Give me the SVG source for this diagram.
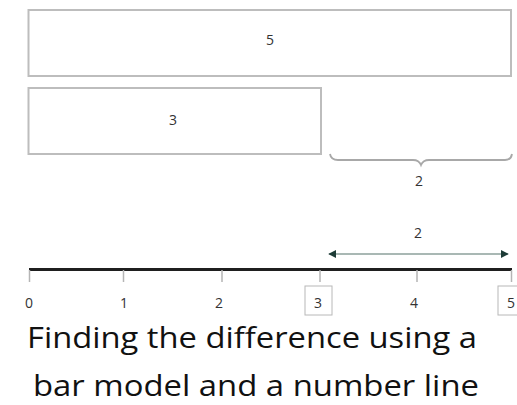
<svg xmlns="http://www.w3.org/2000/svg" width="517" height="405" viewBox="0 0 517 405">
<defs>
<marker id="ah" viewBox="0 0 10 10" refX="9" refY="5" markerWidth="4" markerHeight="4" orient="auto-start-reverse">
<path d="M0,0 L10,5 L0,10 z" fill="#1d3b36"/>
</marker>
</defs>
<style>
.bar{fill:#fff;stroke:#bdbdbd;stroke-width:2}
.lbl{font-family:"Open Sans","Liberation Sans",sans-serif;font-size:14px;fill:#333;text-anchor:middle}
.tick{stroke:#b5b5b5;stroke-width:1.5}
.cap{font-family:"Open Sans","Liberation Sans",sans-serif;font-size:30px;fill:#111;text-anchor:middle}
.box{fill:none;stroke:#b8b8b8;stroke-width:1}
</style>
<rect width="517" height="405" fill="#fff"/>
<g id="bar5">
<rect class="bar" x="28.5" y="10" width="482.5" height="66"/>
<text class="lbl" x="270" y="45">5</text>
</g>
<g id="bar3">
<rect class="bar" x="28.5" y="88" width="292.5" height="66"/>
<text class="lbl" x="173" y="125">3</text>
</g>
<g id="brace">
<path d="M330,154 Q331,160 338,160 L413,160 Q419,160 421,165 Q423,160 429,160 L505,160 Q511,160 512,154" fill="none" stroke="#a8a8a8" stroke-width="1.8"/>
<text class="lbl" x="419" y="186">2</text>
</g>
<g id="numberline">
<line x1="29" y1="269.5" x2="512" y2="269.5" stroke="#1f1f1f" stroke-width="3"/>
<line class="tick" x1="29.5" y1="270" x2="29.5" y2="282"/>
<line class="tick" x1="123.5" y1="270" x2="123.5" y2="282"/>
<line class="tick" x1="222" y1="270" x2="222" y2="282"/>
<line class="tick" x1="320" y1="270" x2="320" y2="282"/>
<line class="tick" x1="417" y1="270" x2="417" y2="282"/>
<line class="tick" x1="511.5" y1="270" x2="511.5" y2="282"/>
<text class="lbl" x="29" y="308">0</text>
<text class="lbl" x="124" y="308">1</text>
<text class="lbl" x="219" y="308">2</text>
<rect class="box" x="305" y="286" width="27" height="29"/>
<text class="lbl" x="318" y="308">3</text>
<text class="lbl" x="414" y="308">4</text>
<rect class="box" x="498" y="286" width="24" height="29"/>
<text class="lbl" x="511" y="308">5</text>
</g>
<g id="connectors">
<line x1="329" y1="254" x2="508" y2="254" stroke="#a9b8b4" stroke-width="2" marker-start="url(#ah)" marker-end="url(#ah)"/>
<text class="lbl" x="418" y="238">2</text>
</g>
<g id="caption">
<text class="cap" x="252" y="348" textLength="450" lengthAdjust="spacingAndGlyphs">Finding the difference using a</text>
<text class="cap" x="256" y="396" textLength="446" lengthAdjust="spacingAndGlyphs">bar model and a number line</text>
</g>
</svg>
